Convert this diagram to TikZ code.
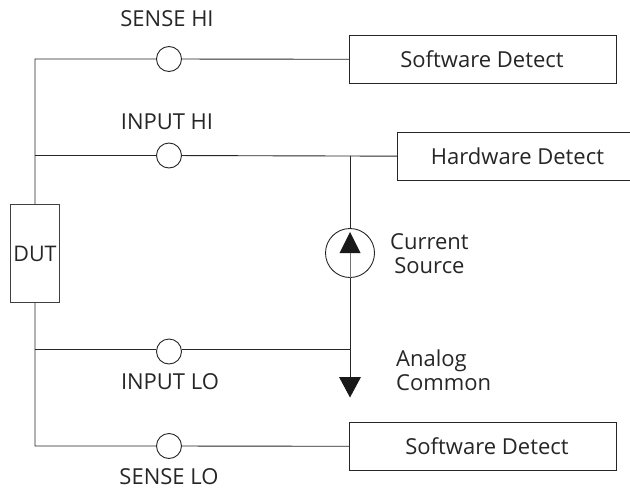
\documentclass[tikz,border=0pt]{standalone}
\usepackage{fontspec}
\setmainfont{Open Sans}
\tikzset{
  lbl/.style={inner sep=0pt,text=black!85,font=\fontsize{22pt}{23.5pt}\selectfont},
  detect/.style={draw=black!85,line width=0.9pt,fill=white,inner sep=0pt,minimum height=48.5pt,text=black!85,font=\fontsize{22pt}{23.5pt}\selectfont},
  jack/.style={draw=black!85,circle,line width=0.9pt,fill=white,inner sep=0pt,minimum size=25pt},
  wire/.style={draw=black!85,line width=0.9pt}
}
\begin{document}
\begin{tikzpicture}[x=1pt,y=-1pt]
\useasboundingbox (0,0) rectangle (630,490);
\node[draw=black!75,line width=0.9pt,inner sep=0pt,minimum width=49pt,minimum height=97.5pt,text=black!85,font=\fontsize{21.5pt}{23.5pt}\selectfont] (dut) at (35,253.5) {DUT};
\node[detect,minimum width=267pt] (swhi) at (483,59.5) {\hspace*{-2pt}Software Detect};
\node[detect,minimum width=240pt] (hw) at (517.5,156.5) {Hardware Detect};
\node[detect,minimum width=267pt] (swlo) at (483,446.5) {\hspace*{8pt}Software Detect};
\node[jack] (jsh) at (169,59) {};
\node[jack] (jih) at (169,155.5) {};
\node[jack] (jil) at (169,351.5) {};
\node[jack] (jsl) at (169,446) {};
\node[draw=black!85,circle,line width=0.9pt,inner sep=0pt,minimum size=49pt] (src) at (350,253) {};
\coordinate (toptl) at (dut.north |- jsh);
\coordinate (topih) at (dut.north |- jih);
\coordinate (botil) at (35,349);
\coordinate (botbl) at (dut.south |- jsl);
\coordinate (njun) at (350,155.5);
\coordinate (sjun) at (350,349);
\coordinate (gnd) at (350,385);
% wires
\draw[wire] (dut.north) -- (toptl) -- (jsh) -- (swhi);
\draw[wire] (topih) -- (jih) -- (hw);
\draw[wire] (dut.south) -- (botbl) -- (jsl) -- (swlo);
\draw[wire] (botil) -- (jil.west |- botil);
\draw[wire] (jil.east |- botil) -- (sjun);
\draw[wire] (njun) -- (src);
\draw[wire] (src) -- (gnd);
% arrows
\draw[draw=black!55,line width=0.9pt] (350,253) -- (src.south);
\fill[black!90] (350,232) -- (360.5,253) -- (339.5,253) -- cycle;
\fill[black!90] (350,397.5) -- (361,377) -- (339,377) -- cycle;
\node[lbl] (sensehi) at (167,18.5) {SENSE HI};
\node[lbl] (inputhi) at (167,121.5) {INPUT HI};
\node[lbl] (inputlo) at (170,381.5) {INPUT LO};
\node[lbl] (senselo) at (169,476.5) {SENSE LO};
\node[lbl,align=center,anchor=west] (srclbl) at (390,253.5) {Current\\Source};
\node[lbl,align=left,anchor=west] (gndlbl) at (396,370) {Analog\\Common};
\end{tikzpicture}
\end{document}
